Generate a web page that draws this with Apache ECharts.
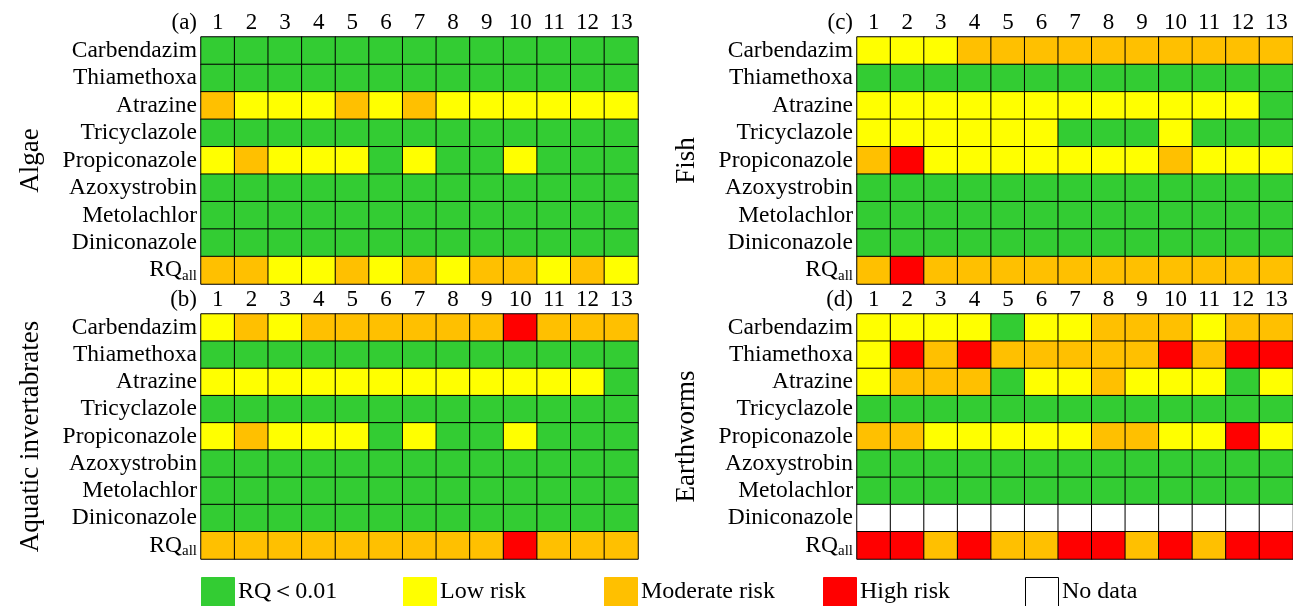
<!DOCTYPE html>
<html>
<head>
<meta charset="utf-8">
<script src="https://cdn.jsdelivr.net/npm/echarts@6/dist/echarts.min.js"></script>
<style>html,body{margin:0;padding:0;background:#fff;}#main{width:1293px;height:606px;}</style>
</head>
<body>
<div id="main"></div>
<script>
// ---- data ----
// risk codes: -1 = no data, 0 = RQ<0.01, 1 = low, 2 = moderate, 3 = high
const sites = ['1','2','3','4','5','6','7','8','9','10','11','12','13'];
const pesticides = ['Carbendazim','Thiamethoxa','Atrazine','Tricyclazole','Propiconazole','Azoxystrobin','Metolachlor','Diniconazole','RQall'];
const panelNames = ['Algae','Aquatic invertabrates','Fish','Earthworms'];
const panelTags = ['(a)','(b)','(c)','(d)'];
const riskLabels = ['RQ＜0.01','Low risk','Moderate risk','High risk','No data'];

const algae = [
  [0,0,0,0,0,0,0,0,0,0,0,0,0],
  [0,0,0,0,0,0,0,0,0,0,0,0,0],
  [2,1,1,1,2,1,2,1,1,1,1,1,1],
  [0,0,0,0,0,0,0,0,0,0,0,0,0],
  [1,2,1,1,1,0,1,0,0,1,0,0,0],
  [0,0,0,0,0,0,0,0,0,0,0,0,0],
  [0,0,0,0,0,0,0,0,0,0,0,0,0],
  [0,0,0,0,0,0,0,0,0,0,0,0,0],
  [2,2,1,1,2,1,2,1,2,2,1,2,1]
];
const invertebrates = [
  [1,2,1,2,2,2,2,2,2,3,2,2,2],
  [0,0,0,0,0,0,0,0,0,0,0,0,0],
  [1,1,1,1,1,1,1,1,1,1,1,1,0],
  [0,0,0,0,0,0,0,0,0,0,0,0,0],
  [1,2,1,1,1,0,1,0,0,1,0,0,0],
  [0,0,0,0,0,0,0,0,0,0,0,0,0],
  [0,0,0,0,0,0,0,0,0,0,0,0,0],
  [0,0,0,0,0,0,0,0,0,0,0,0,0],
  [2,2,2,2,2,2,2,2,2,3,2,2,2]
];
const fish = [
  [1,1,1,2,2,2,2,2,2,2,2,2,2],
  [0,0,0,0,0,0,0,0,0,0,0,0,0],
  [1,1,1,1,1,1,1,1,1,1,1,1,0],
  [1,1,1,1,1,1,0,0,0,1,0,0,0],
  [2,3,1,1,1,1,1,1,1,2,1,1,1],
  [0,0,0,0,0,0,0,0,0,0,0,0,0],
  [0,0,0,0,0,0,0,0,0,0,0,0,0],
  [0,0,0,0,0,0,0,0,0,0,0,0,0],
  [2,3,2,2,2,2,2,2,2,2,2,2,2]
];
const earthworms = [
  [1,1,1,1,0,1,1,2,2,2,1,2,2],
  [1,3,2,3,2,2,2,2,2,3,2,3,3],
  [1,2,2,2,0,1,1,2,1,1,1,0,1],
  [0,0,0,0,0,0,0,0,0,0,0,0,0],
  [2,2,1,1,1,1,1,2,2,1,1,3,1],
  [0,0,0,0,0,0,0,0,0,0,0,0,0],
  [0,0,0,0,0,0,0,0,0,0,0,0,0],
  [-1,-1,-1,-1,-1,-1,-1,-1,-1,-1,-1,-1,-1],
  [3,3,2,3,2,2,3,3,2,3,2,3,3]
];
const panels = [algae, invertebrates, fish, earthworms];

// ---- styling ----
const FONT = "'Liberation Serif','Times New Roman',serif";
const riskColors = ['#33cc33','#ffff00','#ffc000','#ff0000','#ffffff'];
const grids = [
  {left: 201, top: 37, width: 437, height: 247},
  {left: 201, top: 314, width: 437, height: 245},
  {left: 857, top: 37, width: 439, height: 247},
  {left: 857, top: 314, width: 439, height: 245}
];

function toCells(m) {
  const out = [];
  m.forEach((row, r) => row.forEach((v, c) => out.push([c, r, v])));
  return out;
}

const xAxes = [], yAxes = [], series = [], graphics = [];
panels.forEach((m, i) => {
  xAxes.push({
    type: 'category', gridIndex: i, position: 'top', data: sites,
    axisLine: {show: false}, axisTick: {show: false}, splitArea: {show: false},
    axisLabel: {fontFamily: FONT, fontSize: 23, color: '#000', margin: 3, interval: 0}
  });
  yAxes.push({
    type: 'category', gridIndex: i, inverse: true, data: pesticides,
    axisLine: {show: false}, axisTick: {show: false}, splitArea: {show: false},
    name: panelNames[i], nameLocation: 'middle', nameRotate: 90, nameGap: 157,
    nameTextStyle: {fontFamily: FONT, fontSize: 27, color: '#000'},
    axisLabel: {
      fontFamily: FONT, fontSize: 23.5, color: '#000', margin: 4, interval: 0,
      formatter: v => v === 'RQall' ? '{m|RQ}{s|all}' : v,
      rich: {
        m: {fontFamily: FONT, fontSize: 23.5, color: '#000'},
        s: {fontFamily: FONT, fontSize: 15, color: '#000', padding: [12, 0, 0, 0]}
      }
    }
  });
  series.push({
    type: 'heatmap', xAxisIndex: i, yAxisIndex: i, data: toCells(m),
    itemStyle: {borderColor: '#000', borderWidth: 1},
    emphasis: {disabled: true}, label: {show: false}
  });
  graphics.push({
    type: 'text', x: grids[i].left - 4, y: grids[i].top - 14,
    style: {text: panelTags[i], font: '23px ' + FONT, fill: '#000', textAlign: 'right', textVerticalAlign: 'middle'}
  });
});

// legend
const legendX = [201, 403, 604, 823, 1025];
riskLabels.forEach((lab, k) => {
  graphics.push({
    type: 'rect', shape: {x: legendX[k] + 0.5, y: 577.5, width: 33, height: 32},
    style: {fill: riskColors[k], stroke: k === 4 ? '#000' : riskColors[k], lineWidth: 1}
  });
  graphics.push({
    type: 'text', x: legendX[k] + 37, y: 592,
    style: {text: lab, font: '24px ' + FONT, fill: '#000', textVerticalAlign: 'middle'}
  });
});

const chart = echarts.init(document.getElementById('main'), null, {renderer: 'canvas'});
chart.setOption({
  backgroundColor: '#fff',
  animation: false,
  grid: grids.map(g => Object.assign({containLabel: false}, g)),
  xAxis: xAxes,
  yAxis: yAxes,
  visualMap: {
    type: 'piecewise', show: false, seriesIndex: [0,1,2,3], dimension: 2,
    pieces: [
      {value: -1, color: riskColors[4]},
      {value: 0, color: riskColors[0]},
      {value: 1, color: riskColors[1]},
      {value: 2, color: riskColors[2]},
      {value: 3, color: riskColors[3]}
    ]
  },
  series: series,
  graphic: graphics
});
</script>
</body>
</html>
